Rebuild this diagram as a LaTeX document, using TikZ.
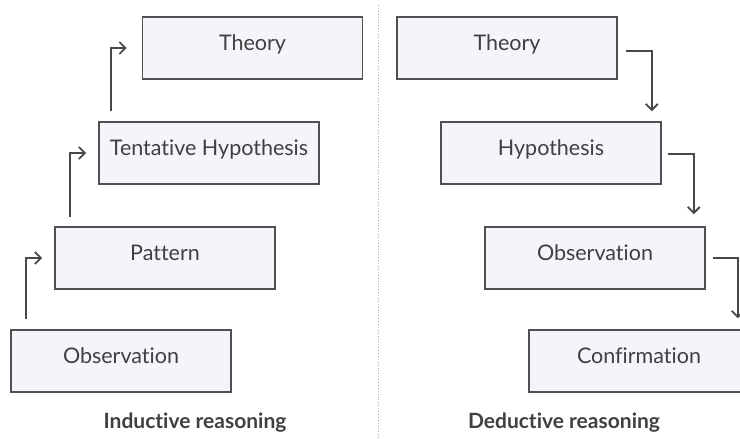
\documentclass[tikz,border=0pt]{standalone}
\usepackage{fontspec}
\setmainfont{Lato}[Ligatures=NoCommon]
\usetikzlibrary{calc,arrows.meta}
\definecolor{boxfill}{HTML}{F4F4FA}
\definecolor{boxline}{HTML}{505050}
\definecolor{inktext}{HTML}{404040}
\definecolor{arrowink}{HTML}{484848}
\definecolor{divider}{HTML}{A8A8A8}
\begin{document}
\begin{tikzpicture}[x=1pt,y=-1pt,
  stepbox/.style={draw=boxline, fill=boxfill, line width=1.7pt,
    minimum width=220pt, minimum height=62pt, inner sep=0pt,
    text=inktext, font=\fontsize{21.5}{26}\selectfont,
    text height=10pt, text depth=6pt},
  flow/.style={draw=arrowink, line width=1.8pt,
    -{Straight Barb[length=6pt,width=12pt,line width=1.8pt]}},
  caption/.style={text=inktext, font=\fontsize{21}{25}\selectfont\bfseries, anchor=base}]
  \useasboundingbox (0,0) rectangle (740,439);
  \clip (0,0) rectangle (740,439);

  % dotted divider between the two halves
  \coordinate (divtop) at (378,5);
  \coordinate (divbot) at (378,439);
  \draw[divider, line width=0.9pt, dotted] (divtop) -- (divbot);

  % inductive side: bottom-up staircase
  \node[stepbox] (iobs) at (121,361) {Observation};
  \node[stepbox] (ipat) at (165,258) {Pattern};
  \node[stepbox] (ihyp) at (209,153) {Tentative Hypothesis};
  \node[stepbox] (ithe) at (252.5,48) {Theory};

  \draw[flow] ($(iobs.north west)+(16,-10)$) |- ($(ipat.west)+(-12,0)$);
  \draw[flow] ($(ipat.north west)+(16,-9)$) |- ($(ihyp.west)+(-12,0)$);
  \draw[flow] ($(ihyp.north west)+(13,-10)$) |- ($(ithe.west)+(-15,0)$);

  % deductive side: top-down staircase
  \node[stepbox] (dthe) at (507,48) {Theory};
  \node[stepbox] (dhyp) at (551,153) {Hypothesis};
  \node[stepbox] (dobs) at (595,258) {Observation};
  \node[stepbox] (dcon) at (639,361) {Confirmation};

  \draw[flow] ($(dthe.east)+(8,3)$) -| ($(dhyp.north east)+(-10,-10)$);
  \draw[flow] ($(dhyp.east)+(6,1)$) -| ($(dobs.north east)+(-12,-12)$);
  \draw[flow] ($(dobs.east)+(7,0)$) -| ($(dcon.north east)+(-12,-11)$);

  % captions
  \node[caption] (indcap) at (195,428) {Inductive reasoning};
  \node[caption] (dedcap) at (564,428) {Deductive reasoning};
\end{tikzpicture}
\end{document}
